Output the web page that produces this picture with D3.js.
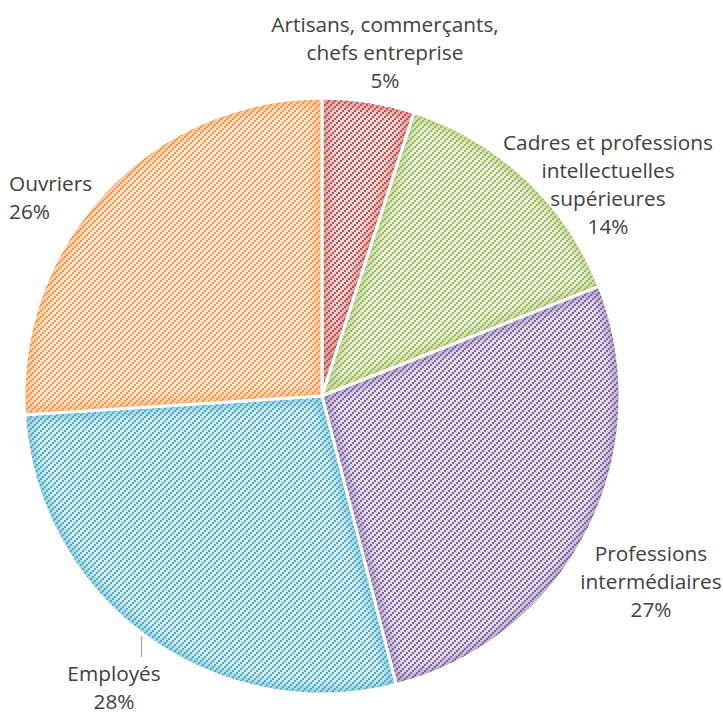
<!DOCTYPE html>
<html>
<head>
<meta charset="utf-8">
<script src="https://cdn.jsdelivr.net/npm/d3@7"></script>
<style>
  html, body { margin: 0; padding: 0; background: #ffffff; }
  svg { display: block; }
  text { font-family: "Open Sans", "Noto Sans", sans-serif; fill: #404040; }
</style>
</head>
<body>
<svg id="chart" width="723" height="714"></svg>
<script>
// Répartition par catégorie socioprofessionnelle (en %)
const categories = [
  "Artisans, commerçants, chefs entreprise",
  "Cadres et professions intellectuelles supérieures",
  "Professions intermédiaires",
  "Employés",
  "Ouvriers"
];
const values = [5, 14, 27, 28, 26];
const lineColors = ["#C0504D", "#9BBB59", "#8064A2", "#4BACC6", "#F79646"];
const backColors = ["#F2DCDB", "#EBF1DE", "#E5E0EC", "#DAEEF3", "#FDE9D9"];
const labelLines = [
  ["Artisans, commerçants,", "chefs entreprise"],
  ["Cadres et professions", "intellectuelles", "supérieures"],
  ["Professions", "intermédiaires"],
  ["Employés"],
  ["Ouvriers"]
];

// Label placement: first baseline and alignment for each slice
const labelLayout = [
  { x: 385, y: 31.5, anchor: "middle" },
  { x: 608, y: 149.5, anchor: "middle" },
  { x: 651, y: 561, anchor: "middle" },
  { x: 114, y: 681, anchor: "middle" },
  { x: 9,   y: 191, anchor: "start" }
];

const svg = d3.select("#chart");
const cx = 322, cy = 396, radius = 298;
const lineHeight = 28.2;

const defs = svg.append("defs");

// Diagonal hatch pattern for each slice
categories.forEach((c, i) => {
  const p = defs.append("pattern")
    .attr("id", "hatch" + i)
    .attr("patternUnits", "userSpaceOnUse")
    .attr("width", 6).attr("height", 6);
  p.append("rect").attr("width", 6).attr("height", 6).attr("fill", backColors[i]);
  [[4, 0], [2, 2], [0, 4]].forEach(([x, y]) => {
    p.append("rect").attr("x", x).attr("y", y).attr("width", 2).attr("height", 2)
      .attr("fill", lineColors[i]).attr("shape-rendering", "crispEdges");
  });
});

defs.append("filter").attr("id", "soft")
  .attr("x", "-20%").attr("y", "-20%").attr("width", "140%").attr("height", "140%")
  .append("feGaussianBlur").attr("stdDeviation", 4);

const pie = d3.pie().sort(null).value(d => d)(values);
const arc = d3.arc().innerRadius(0).outerRadius(radius);

const g = svg.append("g").attr("transform", `translate(${cx},${cy})`);

pie.forEach((d, i) => {
  defs.append("clipPath").attr("id", "clip" + i)
    .append("path").attr("d", arc(d));

  const slice = g.append("g");
  slice.append("path")
    .attr("d", arc(d))
    .attr("fill", `url(#hatch${i})`);

  // soft inner edge shading
  slice.append("g").attr("clip-path", `url(#clip${i})`)
    .append("path")
    .attr("d", arc(d))
    .attr("fill", "none")
    .attr("stroke", lineColors[i])
    .attr("stroke-width", 14)
    .attr("stroke-opacity", 0.45)
    .attr("filter", "url(#soft)");

  slice.append("path")
    .attr("d", arc(d))
    .attr("fill", "none")
    .attr("stroke", "#ffffff")
    .attr("stroke-width", 3)
    .attr("stroke-linejoin", "round");
});

// leader line for the Employés label
svg.append("line")
  .attr("x1", 141.5).attr("x2", 141.5)
  .attr("y1", 636).attr("y2", 657)
  .attr("stroke", "#A6A6A6").attr("stroke-width", 1.3);

// data labels
pie.forEach((d, i) => {
  const L = labelLayout[i];
  const t = svg.append("text")
    .attr("text-anchor", L.anchor)
    .attr("font-size", 20.8);
  const lines = labelLines[i].concat([Math.round(d.data) + "%"]);
  lines.forEach((s, k) => {
    t.append("tspan").attr("x", L.x).attr("y", L.y + k * lineHeight).text(s);
  });
});
</script>
</body>
</html>
